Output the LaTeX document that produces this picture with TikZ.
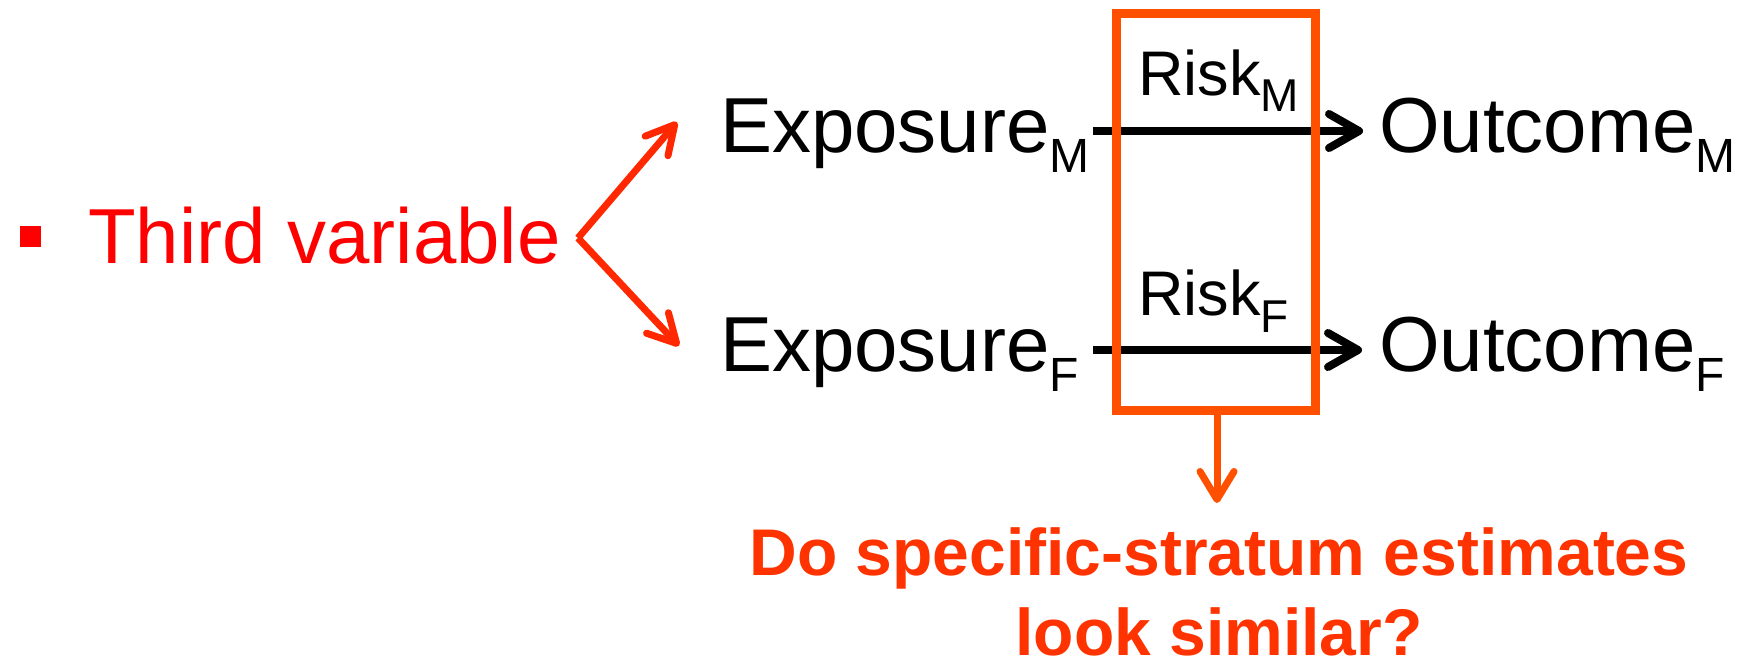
\documentclass[tikz,border=0pt]{standalone}
\usepackage{fontspec}
\setmainfont{Liberation Sans}
\usetikzlibrary{arrows.meta}
\definecolor{tvred}{RGB}{255,0,0}
\definecolor{forkred}{RGB}{255,40,0}
\definecolor{boxorange}{RGB}{255,80,0}
\definecolor{qorange}{RGB}{255,51,0}
\newcommand\subBig[1]{\raisebox{-20pt}{\fontsize{48}{48}\selectfont #1}}
\newcommand\subSmall[1]{\raisebox{-17pt}{\fontsize{46}{46}\selectfont #1}}
\begin{document}
\begin{tikzpicture}[x=1pt,y=-1pt,
  lbl/.style={inner sep=0pt, anchor=base west, font=\fontsize{78}{80}\selectfont},
  risklbl/.style={inner sep=0pt, anchor=base west, font=\fontsize{63}{64}\selectfont},
  blackarrow/.style={line width=8pt, -{Straight Barb[length=30pt,width=34pt,round]}},
  forkarrow/.style={draw=forkred, line width=7pt, line join=round, -{Straight Barb[length=28pt,width=30pt,round]}},
  downarrow/.style={draw=boxorange, line width=7pt, -{Straight Barb[length=28pt,width=34pt,round]}},
  framebox/.style={draw=boxorange, line width=9pt, inner sep=0pt, minimum width=199pt, minimum height=396pt}
]
\useasboundingbox (0,0) rectangle (1744,661);
% bullet and third variable
\node[fill=tvred, inner sep=0pt, minimum width=21pt, minimum height=21pt] (bullet) at (30,236) {};
\node[lbl, text=tvred] (third) at (88,263) {Third variable};
% fork
\coordinate (fork) at (578,238);
\coordinate (forkU) at (677,122);
\coordinate (forkD) at (679,346);
\draw[forkarrow] (fork) -- (forkU);
\draw[forkarrow] (fork) -- (forkD);
% exposures and outcomes
\node[lbl] (expM) at (720,152) {Exposure\subBig{M}};
\node[lbl] (expF) at (720,371) {Exposure\subBig{F}};
\node[lbl] (outM) at (1379,152) {Outcome\subBig{M}};
\node[lbl] (outF) at (1379,371) {Outcome\subBig{F}};
% risk labels
\node[risklbl] (riskM) at (1138,95) {Risk\subSmall{M}};
\node[risklbl] (riskF) at (1138,315) {Risk\subSmall{F}};
% arrows
\coordinate (aM0) at (1093,131);
\coordinate (aM1) at (1363,131);
\coordinate (aF0) at (1093,350);
\coordinate (aF1) at (1362,350);
\draw[blackarrow] (aM0) -- (aM1);
\draw[blackarrow] (aF0) -- (aF1);
% box
\node[framebox] (box) at (1215.5,212) {};
\coordinate (qtip) at (1217,503);
\draw[downarrow] (box.south -| qtip) -- (qtip);
% question
\node[inner sep=0pt, anchor=base, align=center, text=qorange, font=\fontsize{66}{80}\selectfont\bfseries] (question) at (1219,655) {Do specific-stratum estimates\\look similar?};
\end{tikzpicture}
\end{document}
